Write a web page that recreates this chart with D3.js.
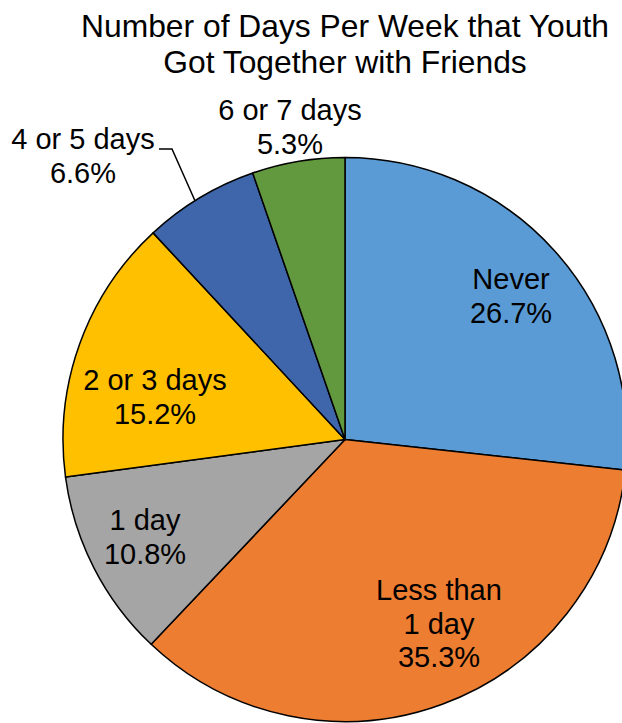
<!DOCTYPE html>
<html>
<head>
<meta charset="utf-8">
<script src="https://cdn.jsdelivr.net/npm/d3@7"></script>
<style>
  body { margin: 0; background: #fff; }
  svg { display: block; font-family: "Liberation Sans", Arial, sans-serif; }
</style>
</head>
<body>
<div id="chart"></div>
<script>
// data, clockwise from 12 o'clock
var categories = ["Never", "Less than 1 day", "1 day", "2 or 3 days", "4 or 5 days", "6 or 7 days"];
var values = [26.7, 35.3, 10.8, 15.2, 6.6, 5.3];
var labelLines = [["Never"], ["Less than", "1 day"], ["1 day"], ["2 or 3 days"], ["4 or 5 days"], ["6 or 7 days"]];
var colors = ["#5B9BD5", "#ED7D31", "#A5A5A5", "#FFC000", "#3F65AB", "#62993E"];
var titleLines = ["Number of Days Per Week that Youth", "Got Together with Friends"];

var width = 622, height = 723;
var cx = 345, cy = 439.5, radius = 282;

var svg = d3.select("#chart")
  .append("svg")
    .attr("width", width)
    .attr("height", height);

// title
svg.append("text")
    .attr("x", 345)
    .attr("y", 37)
    .attr("text-anchor", "middle")
    .style("font-size", "31.8px")
    .style("fill", "#000")
  .selectAll("tspan")
  .data(titleLines)
  .enter()
  .append("tspan")
    .attr("x", 345)
    .attr("dy", function (d, i) { return i === 0 ? 0 : 36; })
    .text(function (d) { return d; });

var pie = d3.pie().sort(null).value(function (d) { return d; });
var arcs = pie(values);

var arc = d3.arc().innerRadius(0).outerRadius(radius);

var g = svg.append("g")
    .attr("transform", "translate(" + cx + "," + cy + ")");

g.selectAll("path")
  .data(arcs)
  .enter()
  .append("path")
    .attr("d", arc)
    .style("fill", function (d, i) { return colors[i]; })
    .style("stroke", "#000")
    .style("stroke-width", 1.5)
    .style("stroke-linejoin", "round");

// label anchors (first baseline, center x)
var labelPos = [
  [511, 289], [439, 600], [145, 530], [155, 390], [83, 149], [290, 120]
];

var labels = svg.append("g")
  .selectAll("text")
  .data(arcs)
  .enter()
  .append("text")
    .attr("text-anchor", "middle")
    .style("font-size", "29px")
    .style("fill", "#000")
    .attr("x", function (d, i) { return labelPos[i][0]; })
    .attr("y", function (d, i) { return labelPos[i][1]; });

labels.each(function (d, i) {
  var lines = labelLines[i].concat([d3.format(".1f")(values[i]) + "%"]);
  d3.select(this).selectAll("tspan")
    .data(lines)
    .enter()
    .append("tspan")
      .attr("x", labelPos[i][0])
      .attr("dy", function (t, j) { return j === 0 ? 0 : 33.5; })
      .text(function (t) { return t; });
});

// leader line for the "4 or 5 days" label
var a45 = arcs[4];
var mid = (a45.startAngle + a45.endAngle) / 2;
var edge = [cx + Math.sin(mid - 0.02) * radius, cy - Math.cos(mid - 0.02) * radius];
svg.append("polyline")
    .attr("points", [[159, 149], [172, 149], edge].map(function (p) { return p.join(","); }).join(" "))
    .style("fill", "none")
    .style("stroke", "#000")
    .style("stroke-width", 1.5);
</script>
</body>
</html>
